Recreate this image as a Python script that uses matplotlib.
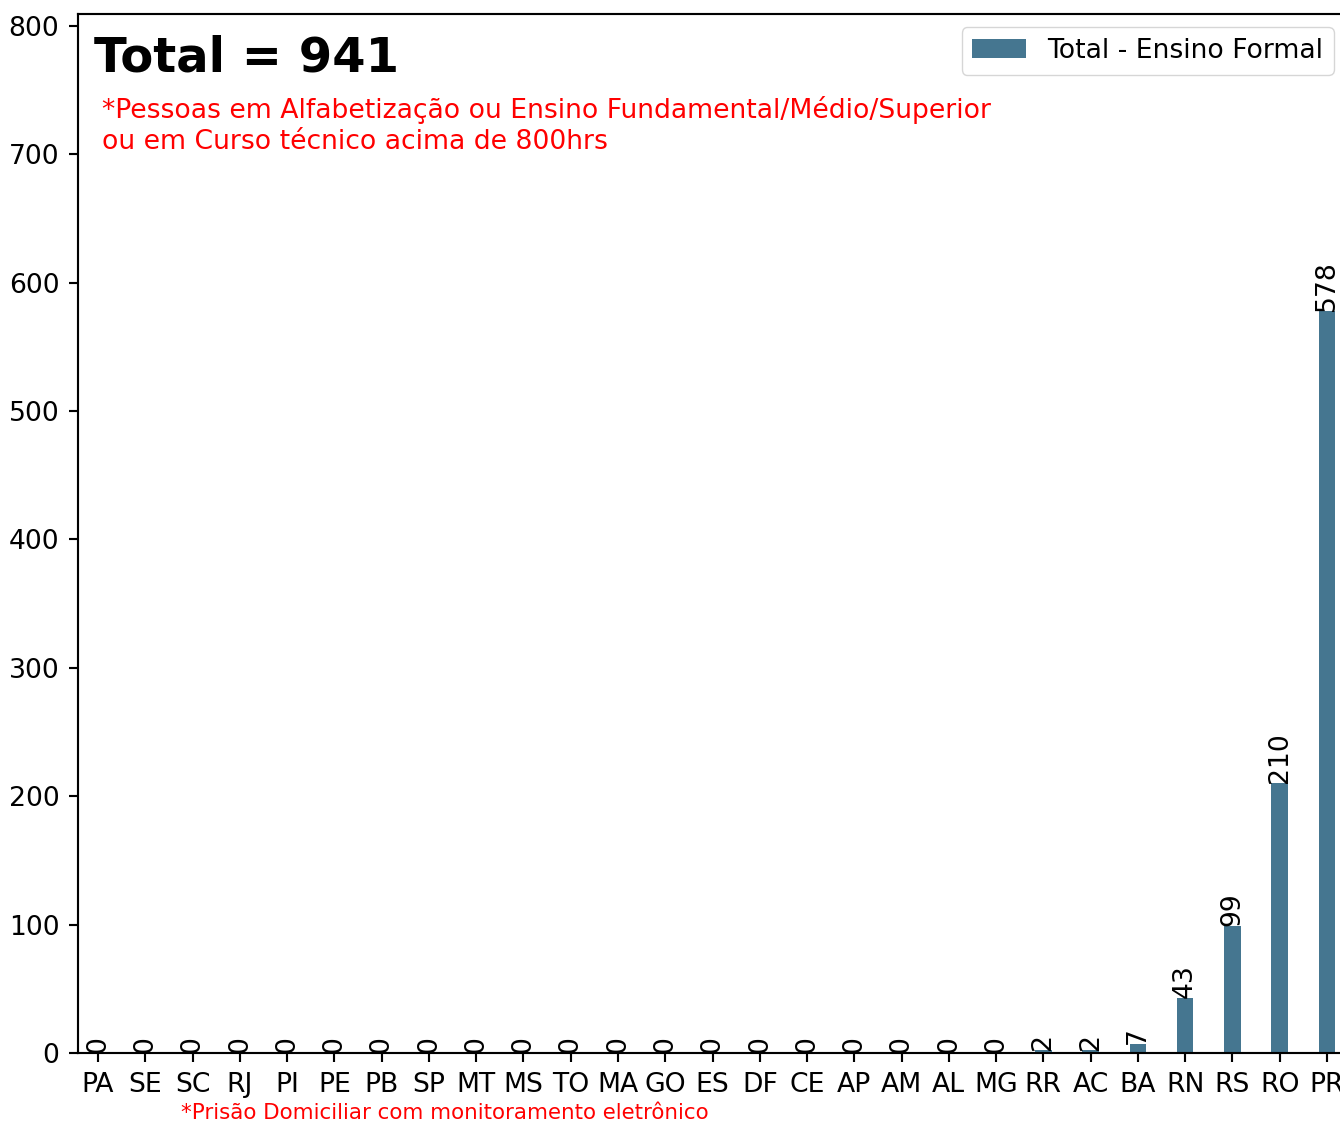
import matplotlib
matplotlib.use("Agg")
import matplotlib.pyplot as plt
import numpy as np

states = ["PA", "SE", "SC", "RJ", "PI", "PE", "PB", "SP", "MT", "MS", "TO", "MA", "GO", "ES",
          "DF", "CE", "AP", "AM", "AL", "MG", "RR", "AC", "BA", "RN", "RS", "RO", "PR"]
values = [0, 0, 0, 0, 0, 0, 0, 0, 0, 0, 0, 0, 0, 0, 0, 0, 0, 0, 0, 0, 2, 2, 7, 43, 99, 210, 578]
series_name = "Total - Ensino Formal"
title_text = "Total = 941"
note_text = "*Pessoas em Alfabetização ou Ensino Fundamental/Médio/Superior\nou em Curso técnico acima de 800hrs"
foot_text = "*Prisão Domiciliar com monitoramento eletrônico"

S = 1.92
plt.rcParams.update({
    "font.family": "DejaVu Sans",
    "axes.linewidth": 0.8 * S,
    "xtick.major.width": 0.8 * S,
    "ytick.major.width": 0.8 * S,
    "xtick.major.size": 3.5 * S,
    "ytick.major.size": 3.5 * S,
    "xtick.major.pad": 3.5 * S,
    "ytick.major.pad": 3.5 * S,
})

fig = plt.figure(figsize=(13.40, 11.21), dpi=100)
ax = fig.add_axes([78 / 1340, (1121 - 1053) / 1121, (1347 - 78) / 1340, (1053 - 14) / 1121])

color = "#457690"
x = np.arange(len(states))
width = 0.35
bars = ax.bar(x, values, width=width, color=color, label=series_name)
ax.set_xlim(-0.25 - width / 2, len(states) - 1 + 0.25 + width / 2)
ax.set_ylim(0, max(values) * 1.4)
ax.set_xticks(x)
ax.set_xticklabels(states, rotation=0)
ax.tick_params(axis="both", labelsize=10 * S)
ax.set_yticks(np.arange(0, 801, 100))

ax.bar_label(bars, labels=[str(v) for v in values], rotation=90, fontsize=10 * S, padding=0)

ax.legend(loc="upper right", fontsize=10 * S, framealpha=0.8)

ax.text(16 / 1269, (1053 - 72) / 1039, title_text, transform=ax.transAxes,
        fontsize=18 * S, fontweight="bold", va="baseline", ha="left")
ax.text(24 / 1269, (1053 - 96) / 1039, note_text, transform=ax.transAxes,
        fontsize=10 * S, color="red", va="top", ha="left", linespacing=1.25)
fig.text(181 / 1340, (1121 - 1119) / 1121, foot_text, fontsize=8 * S, color="red",
         va="baseline", ha="left")

fig.savefig("out.png", dpi=100)
